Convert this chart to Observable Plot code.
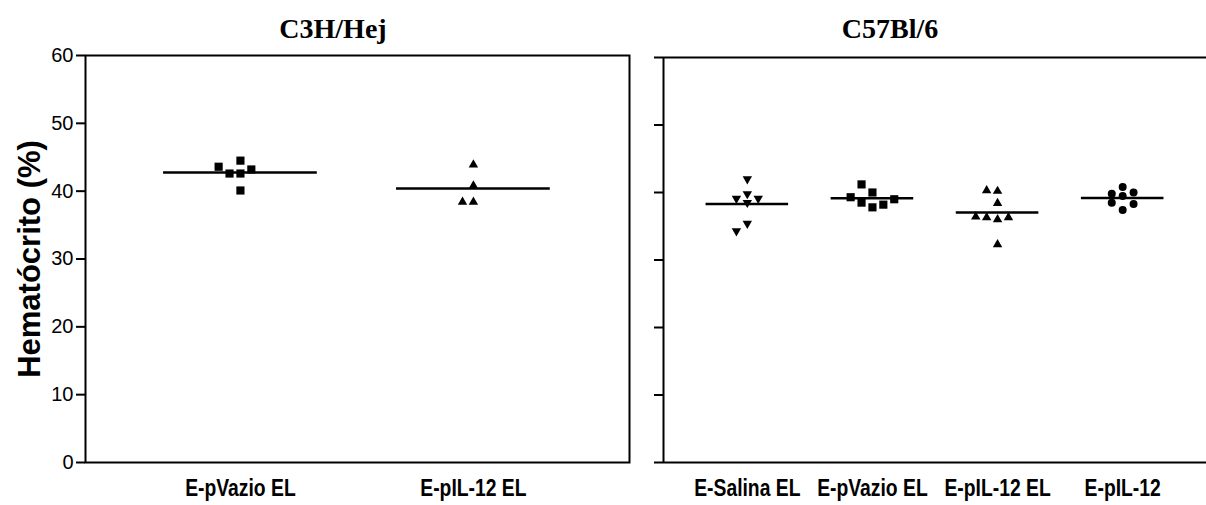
<!DOCTYPE html>
<html><head><meta charset="utf-8">
<script src="https://cdn.jsdelivr.net/npm/d3@7"></script>
<script src="https://cdn.jsdelivr.net/npm/@observablehq/plot@0.6"></script>
<style>
html,body{margin:0;padding:0;background:#fff;overflow:hidden}
#wrap{position:relative;width:1206px;height:505px}
.title{position:absolute;top:13px;font-family:"Liberation Serif","Times New Roman",serif;font-weight:bold;font-size:28px;line-height:32px;transform:translateX(-50%);white-space:nowrap;color:#000}
#left,#right{position:absolute;top:0}
#left{left:0}
#right{left:640px}
</style></head><body>
<div id="wrap">
<div id="left"></div><div id="right"></div>
<div class="title" style="left:333px">C3H/Hej</div>
<div class="title" style="left:890px">C57Bl/6</div>
</div>
<script>
// ---- data ----
const strains = ["C3H/Hej", "C57Bl/6"];
const c3hGroups = ["E-pVazio EL", "E-pIL-12 EL"];
const c57Groups = ["E-Salina EL", "E-pVazio EL", "E-pIL-12 EL", "E-pIL-12"];
const yTicks = [0, 10, 20, 30, 40, 50, 60];
const yTitle = "Hematócrito (%)";
const c3h_pVazioEL = [44.5, 42.6, 42.6, 43.2, 43.6, 40.1];
const c3h_pIL12EL  = [43.9, 40.8, 38.4, 38.4];
const c57_salinaEL = [42.0, 38.5, 39.1, 39.1, 39.8, 35.4, 34.3];
const c57_pVazioEL = [40.0, 41.2, 37.8, 38.5, 38.2, 39.3, 39.0];
const c57_pIL12EL  = [40.2, 40.3, 38.4, 36.0, 36.3, 36.3, 36.4, 32.3];
const c57_pIL12    = [39.5, 38.5, 39.8, 40.0, 40.8, 38.3, 37.4];

// ---- column-scatter layout (computed from the values) ----
const SLOT_PX = 10.9, THRESH = 1.25;
const prefs = [0, -1, 1, -2, 2, -3, 3, -4, 4];
function scatter(values, gi, unitsPerPx) {
  const placed = [];
  return values.map(v => {
    let s = prefs.find(p => !placed.some(q => q.s === p && Math.abs(q.v - v) < THRESH));
    placed.push({s, v});
    return {value: v, x: gi + s * SLOT_PX * unitsPerPx};
  });
}
const font = "'Liberation Sans', Arial, sans-serif";
const xLabelOpts = {tickSize: 0, tickPadding: 17, fontSize: 23, fontWeight: "bold", label: null};

// ---- left panel ----
const Ldom = [0.335, 2.67], Lw = 544;
const Lu = (Ldom[1] - Ldom[0]) / Lw;
const Lsets = [c3h_pVazioEL, c3h_pIL12EL];
const Lsym = [{symbol: "square", r: 4.6}, {symbol: "triangle", r: 3.5}];
const Lmeans = Lsets.map((v, i) => ({i: i + 1, mean: d3.mean(v)}));
const left = Plot.plot({
  width: 640, height: 505,
  marginLeft: 85, marginRight: 11, marginTop: 55, marginBottom: 43,
  x: {domain: Ldom, axis: null},
  y: {domain: [0, 60], axis: null},
  style: {fontFamily: font, color: "black", background: "white"},
  marks: [
    Plot.frame({stroke: "black", strokeWidth: 2}),
    Plot.axisY({ticks: yTicks, tickSize: 9, tickPadding: 3, fontSize: 20, strokeWidth: 2, label: null}),
    Plot.axisX({ticks: [1, 2], tickFormat: i => c3hGroups[i - 1], ...xLabelOpts}),
    Plot.text([yTitle], {frameAnchor: "left", textAnchor: "middle", dx: -55, rotate: -90, fontSize: 31, fontWeight: "bold", fill: "black"}),
    Plot.ruleY(Lmeans, {y: "mean", x1: d => d.i - 0.33, x2: d => d.i + 0.33, stroke: "black", strokeWidth: 2.5}),
    ...Lsets.map((v, i) => Plot.dot(scatter(v, i + 1, Lu), {x: "x", y: "value", fill: "black", stroke: "none", ...Lsym[i]}))
  ]
});
document.getElementById("left").append(left);

// ---- right panel ----
const Rdom = [0.33, 4.67], Rw = 543;
const Ru = (Rdom[1] - Rdom[0]) / Rw;
const Rsets = [c57_salinaEL, c57_pVazioEL, c57_pIL12EL, c57_pIL12];
const Rsym = [{symbol: "triangle", r: 3.5, rotate: 180}, {symbol: "square", r: 4.6}, {symbol: "triangle", r: 3.5}, {symbol: "circle", r: 4}];
const Rmeans = Rsets.map((v, i) => ({i: i + 1, mean: d3.mean(v)}));
const right = Plot.plot({
  width: 566, height: 505,
  marginLeft: 23, marginRight: 0, marginTop: 57, marginBottom: 43,
  x: {domain: Rdom, axis: null},
  y: {domain: [0, 60], axis: null},
  style: {fontFamily: font, color: "black", background: "white"},
  marks: [
    Plot.ruleY([0, 60], {stroke: "black", strokeWidth: 2}),
    Plot.ruleX([Rdom[0]], {stroke: "black", strokeWidth: 2}),
    Plot.axisY({ticks: yTicks, tickSize: 9, tickFormat: () => "", strokeWidth: 2, label: null}),
    Plot.axisX({ticks: [1, 2, 3, 4], tickFormat: i => c57Groups[i - 1], ...xLabelOpts}),
    Plot.ruleY(Rmeans, {y: "mean", x1: d => d.i - 0.33, x2: d => d.i + 0.33, stroke: "black", strokeWidth: 2.5}),
    ...Rsets.map((v, i) => Plot.dot(scatter(v, i + 1, Ru), {x: "x", y: "value", fill: "black", stroke: "none", ...Rsym[i]}))
  ]
});
document.getElementById("right").append(right);

// condense the bold group labels horizontally, as in the original figure
document.querySelectorAll('g[aria-label="x-axis tick label"] text').forEach(t => {
  const L = t.getComputedTextLength();
  t.setAttribute("textLength", (L * 0.84).toFixed(1));
  t.setAttribute("lengthAdjust", "spacingAndGlyphs");
});
</script>
</body></html>
